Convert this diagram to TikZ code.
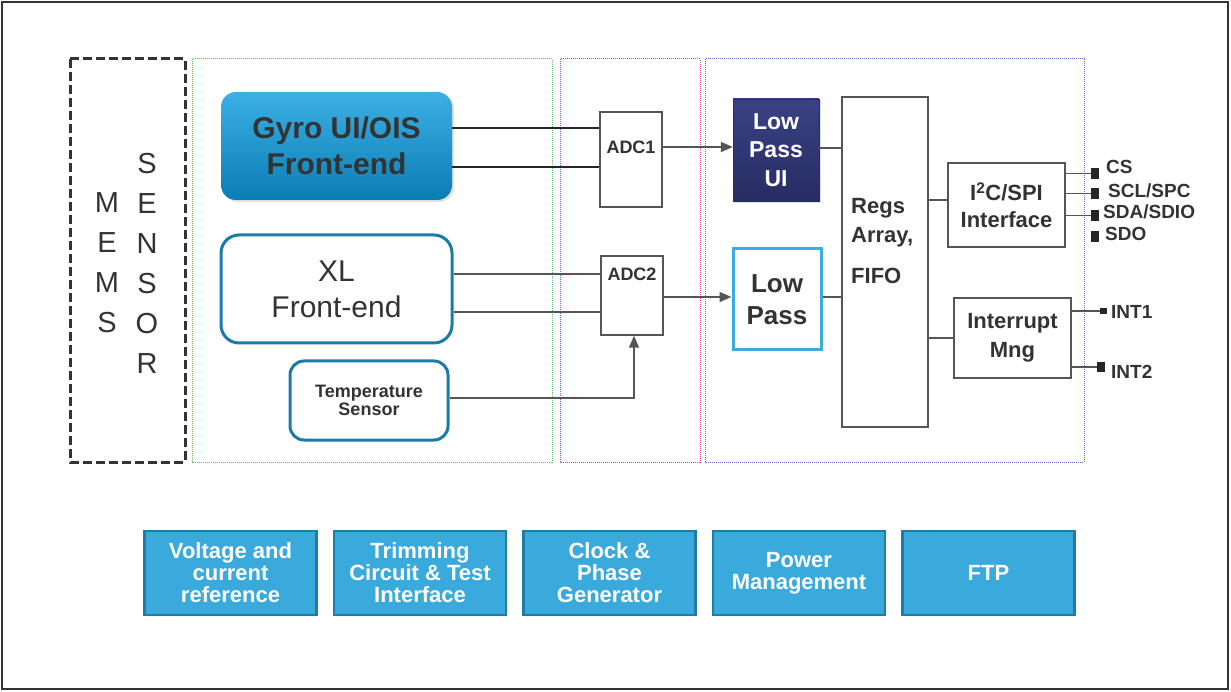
\documentclass[tikz,border=0pt]{standalone}
\usepackage{fontspec}
\setmainfont{Liberation Sans}
\usetikzlibrary{arrows.meta}
\usetikzlibrary{shadows}
\definecolor{gyrotop}{HTML}{3CB0E4}
\definecolor{gyrobot}{HTML}{0A7DB5}
\definecolor{xlblue}{HTML}{1C7BA5}
\definecolor{navytop}{HTML}{3A4285}
\definecolor{navybot}{HTML}{272C62}
\definecolor{lpblue}{HTML}{3AACDD}
\definecolor{boxfill}{HTML}{3AA9DB}
\definecolor{boxedge}{HTML}{1E7CA7}
\definecolor{inkgray}{HTML}{333333}
\definecolor{wiregray}{HTML}{555555}
\definecolor{grpgreen}{HTML}{55C055}
\definecolor{grpmagenta}{HTML}{C840A8}
\definecolor{grpblue}{HTML}{6070C0}

\begin{document}
\begin{tikzpicture}[x=1pt, y=-1pt,
    blk/.style={draw=wiregray, line width=1.5pt, fill=white, inner sep=0pt},
    wire/.style={draw=wiregray, line width=1.5pt},
    arr/.style={wire, -{Triangle[length=12pt, width=10pt]}},
    grp/.style={line width=1pt, dash pattern=on 1pt off 1pt},
    pin/.style={fill=black!85, inner sep=0pt},
    pinlbl/.style={font=\bfseries\fontsize{19}{19}\selectfont, text=inkgray, anchor=west, inner sep=0pt},
    botbox/.style={draw=boxedge, line width=2.5pt, fill=boxfill, text=white, align=center,
      minimum width=172, minimum height=84, inner sep=0pt,
      font=\bfseries\fontsize{22}{22}\selectfont}]
  \useasboundingbox (0,0) rectangle (1231,692);
  \draw[line width=2pt, draw=inkgray] (2,2) rectangle (1228,689);

  % sensor and groups
  \draw[line width=3pt, draw=inkgray, dash pattern=on 9pt off 4pt] (70,59) rectangle (185,462);
  \node[align=center, text=inkgray, font=\fontsize{29}{40}\selectfont, inner sep=0pt] (memstxt) at (107,263) {M\\E\\M\\S};
  \node[align=center, text=inkgray, font=\fontsize{29}{40}\selectfont, inner sep=0pt] (sensortxt) at (147,263) {S\\E\\N\\S\\O\\R};
  \draw[grp, draw=grpgreen] (192,59) rectangle (552,462);
  \draw[grp, draw=grpmagenta] (560,59) rectangle (700,462);
  \draw[grp, draw=grpblue] (705,59) rectangle (1084,462);

  % front-ends
  \node[rounded corners=15pt, top color=gyrotop, bottom color=gyrobot, minimum width=231, minimum height=108,
    drop shadow={opacity=0.25, shadow xshift=2pt, shadow yshift=-2pt}, align=center, text=inkgray,
    font=\bfseries\fontsize{30}{36}\selectfont, inner sep=0pt] (gyro) at (336.5,146) {Gyro UI/OIS\\Front-end};
  \node[draw=xlblue, line width=3pt, rounded corners=18pt, fill=white, minimum width=231, minimum height=108,
    align=center, text=inkgray, font=\fontsize{30}{36}\selectfont, inner sep=0pt] (xl) at (336.5,289) {XL\\Front-end};
  \node[draw=xlblue, line width=3pt, rounded corners=14pt, fill=white, minimum width=158, minimum height=79,
    align=center, text=inkgray, font=\bfseries\fontsize{18}{17.5}\selectfont, inner sep=0pt] (temp) at (369,400.5) {Temperature\\Sensor};

  % converters
  \node[blk, minimum width=62, minimum height=95] (adc1) at (631,159.5) {};
  \node[font=\bfseries\fontsize{18}{18}\selectfont, text=inkgray, inner sep=0pt] (adc1txt) at (631,147) {ADC1};
  \node[blk, minimum width=62, minimum height=79] (adc2) at (632,295.5) {};
  \node[font=\bfseries\fontsize{18}{18}\selectfont, text=inkgray, inner sep=0pt] (adc2txt) at (632,274) {ADC2};

  % filters
  \node[top color=navytop, bottom color=navybot, draw=navybot, minimum width=86, minimum height=102,
    drop shadow={opacity=0.25, shadow xshift=2pt, shadow yshift=-2pt}, align=center, text=white,
    font=\bfseries\fontsize{23}{28.5}\selectfont, inner sep=0pt] (lpui) at (776,150) {Low\\Pass\\UI};
  \node[draw=lpblue, line width=3pt, fill=white, minimum width=88, minimum height=101, align=center, text=inkgray,
    font=\bfseries\fontsize{26}{32}\selectfont, inner sep=0pt] (lp) at (777,299.5) {Low\\Pass};

  % digital part
  \node[blk, minimum width=86, minimum height=330] (regs) at (885,262) {};
  \node[align=left, anchor=north west, text=inkgray, font=\bfseries\fontsize{22}{29}\selectfont, inner sep=0pt]
    (regstxt) at (851,198) {Regs\\Array,\\[12pt]FIFO};
  \node[blk, minimum width=117, minimum height=84, align=center, text=inkgray,
    font=\bfseries\fontsize{22}{27}\selectfont] (i2c) at (1006.5,205) {I\textsuperscript{2}C/SPI\\Interface};
  \node[blk, minimum width=117, minimum height=80, align=center, text=inkgray,
    font=\bfseries\fontsize{22}{29}\selectfont] (intm) at (1012.5,338) {Interrupt\\Mng};

  % pins
  \node[pin, minimum width=8, minimum height=11] (cs) at (1095,173.5) {};
  \node[pin, minimum width=8, minimum height=11] (scl) at (1095,193.5) {};
  \node[pin, minimum width=8, minimum height=11] (sda) at (1095,215.5) {};
  \node[pin, minimum width=8, minimum height=11] (sdo) at (1095,237) {};
  \node[pin, minimum width=7, minimum height=6] (int1) at (1103.5,311) {};
  \node[pin, minimum width=8, minimum height=10] (int2) at (1101,367) {};
  \node[pinlbl] (cslbl) at (1106,167) {CS};
  \node[pinlbl] (scllbl) at (1108,191) {SCL/SPC};
  \node[pinlbl] (sdalbl) at (1103,212) {SDA/SDIO};
  \node[pinlbl] (sdolbl) at (1105,234) {SDO};
  \node[pinlbl] (int1lbl) at (1111,312) {INT1};
  \node[pinlbl] (int2lbl) at (1111,372) {INT2};

  % wires
  \draw[line width=2pt, draw=black!85] ([yshift=18pt]gyro.east) -- ([yshift=18pt]gyro.east -| adc1.west);
  \draw[line width=2pt, draw=black!85] ([yshift=-21pt]gyro.east) -- ([yshift=-21pt]gyro.east -| adc1.west);
  \draw[wire] ([yshift=15pt]xl.east) -- ([yshift=15pt]xl.east -| adc2.west);
  \draw[wire] ([yshift=-23pt]xl.east) -- ([yshift=-23pt]xl.east -| adc2.west);
  \draw[arr] ([yshift=2.5pt]temp.east) -| ([xshift=2pt]adc2.south);
  \draw[arr] (adc1.east |- adc1txt) -- (adc1txt -| lpui.west);
  \draw[arr] ([yshift=-1.5pt]adc2.east) -- ([yshift=-1.5pt]adc2.east -| lp.west);
  \draw[wire] ([yshift=2pt]lpui.east) -- ([yshift=2pt]lpui.east -| regs.west);
  \draw[wire] ([yshift=2.5pt]lp.east) -- ([yshift=2.5pt]lp.east -| regs.west);
  \draw[wire] ([yshift=5pt]i2c.west -| regs.east) -- ([yshift=5pt]i2c.west);
  \draw[wire] (intm.west -| regs.east) -- (intm.west);
  \draw[wire] (cs.west -| i2c.east) -- (cs.west);
  \draw[wire] (scl.west -| i2c.east) -- (scl.west);
  \draw[wire] (sda.west -| i2c.east) -- (sda.west);
  \draw[wire] (int1.west -| intm.east) -- (int1.west);
  \draw[wire] (int2.west -| intm.east) -- (int2.west);

  % support blocks
  \foreach \i/\txt in {0/{Voltage and\\current\\reference}, 1/{Trimming\\Circuit \& Test\\Interface},
      2/{Clock \&\\Phase\\Generator}, 3/{Power\\Management}, 4/{FTP}}
    \node[botbox] (bot\i) at (230.5+189.5*\i, 573) {\txt};
\end{tikzpicture}
\end{document}
